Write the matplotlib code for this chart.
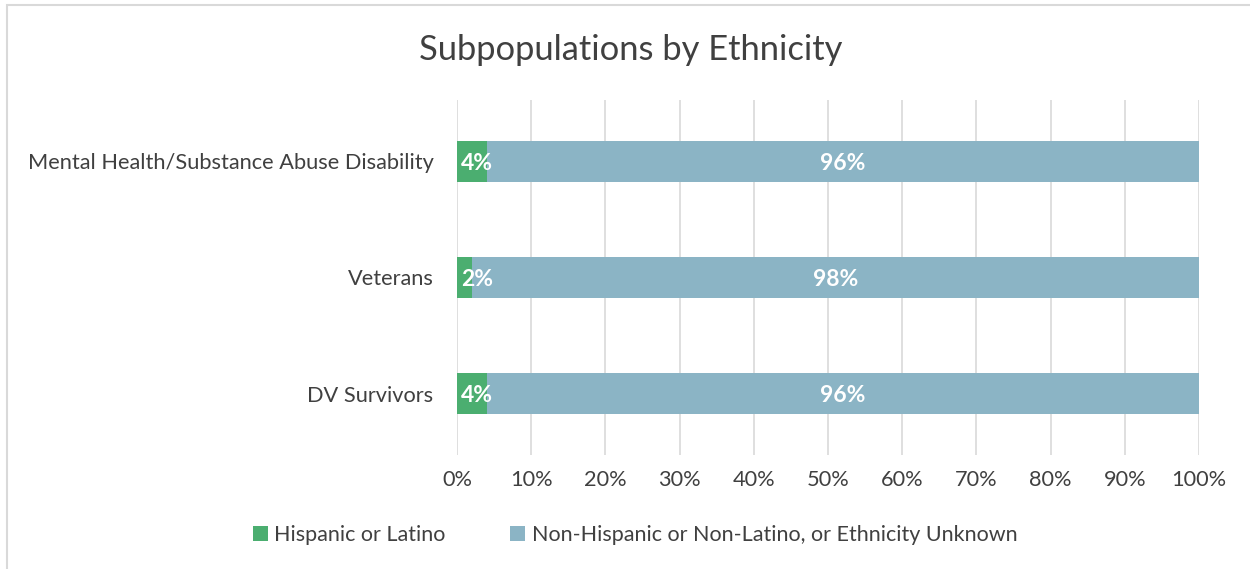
import numpy as np
import matplotlib.pyplot as plt
from matplotlib.patches import Rectangle

categories = ["DV Survivors", "Veterans", "Mental Health/Substance Abuse Disability"]
hispanic = [4, 2, 4]
non_hispanic = [96, 98, 96]
series_names = ["Hispanic or Latino", "Non-Hispanic or Non-Latino, or Ethnicity Unknown"]
green = "#4BAE70"
blue = "#8BB4C5"

plt.rcParams['font.family'] = ['Lato', 'DejaVu Sans']

fig = plt.figure(figsize=(12.5, 5.69), dpi=100)
ax = fig.add_axes([457/1250, 1 - 455/569, (1199-457)/1250, 355/569])

y = np.arange(len(categories))
b1 = ax.barh(y, hispanic, height=0.36, color=green, label=series_names[0], zorder=3)
b2 = ax.barh(y, non_hispanic, left=hispanic, height=0.36, color=blue, label=series_names[1], zorder=3)

for bars, vals in ((b1, hispanic), (b2, non_hispanic)):
    for r, v in zip(bars, vals):
        if vals is hispanic:
            xx = r.get_x() + 0.5
            ha = 'left'
        else:
            xx = r.get_x() + r.get_width() / 2
            ha = 'center'
        ax.text(xx, r.get_y() + r.get_height() / 2, f"{v}%", color='white', fontweight='bold',
                fontsize=16.5, ha=ha, va='center_baseline', zorder=4)

ax.set_xlim(0, 100)
ax.set_ylim(-0.53, 2.53)
ax.set_xticks(np.arange(0, 101, 10))
ax.set_xticklabels([f"{t}%" for t in range(0, 101, 10)])
ax.set_yticks(y)
ax.set_yticklabels(categories)
ax.tick_params(axis='both', length=0, labelsize=15.7, labelcolor='#404040')
ax.tick_params(axis='x', pad=11)
ax.tick_params(axis='y', pad=17)
ax.grid(axis='x', color='#D9D9D9', linewidth=1.2, zorder=0)
for s in ax.spines.values():
    s.set_visible(False)

fig.text(631/1250, 1 - 50/569, "Subpopulations by Ethnicity", ha='center', va='center',
         fontsize=24.8, color='#404040')

fig.legend(loc='center', bbox_to_anchor=(635/1250, 1 - 535/569), ncol=2, frameon=False,
           fontsize=15.5, handlelength=0.7, handleheight=0.7, handletextpad=0.3,
           columnspacing=3.0, labelcolor='#404040')

fig.patches.append(Rectangle((7/1250, -0.1), 1.1, 1 - 5/569 + 0.1, transform=fig.transFigure,
                             fill=False, edgecolor='#D9D9D9', linewidth=1.5))

fig.savefig("out.png", dpi=100)
